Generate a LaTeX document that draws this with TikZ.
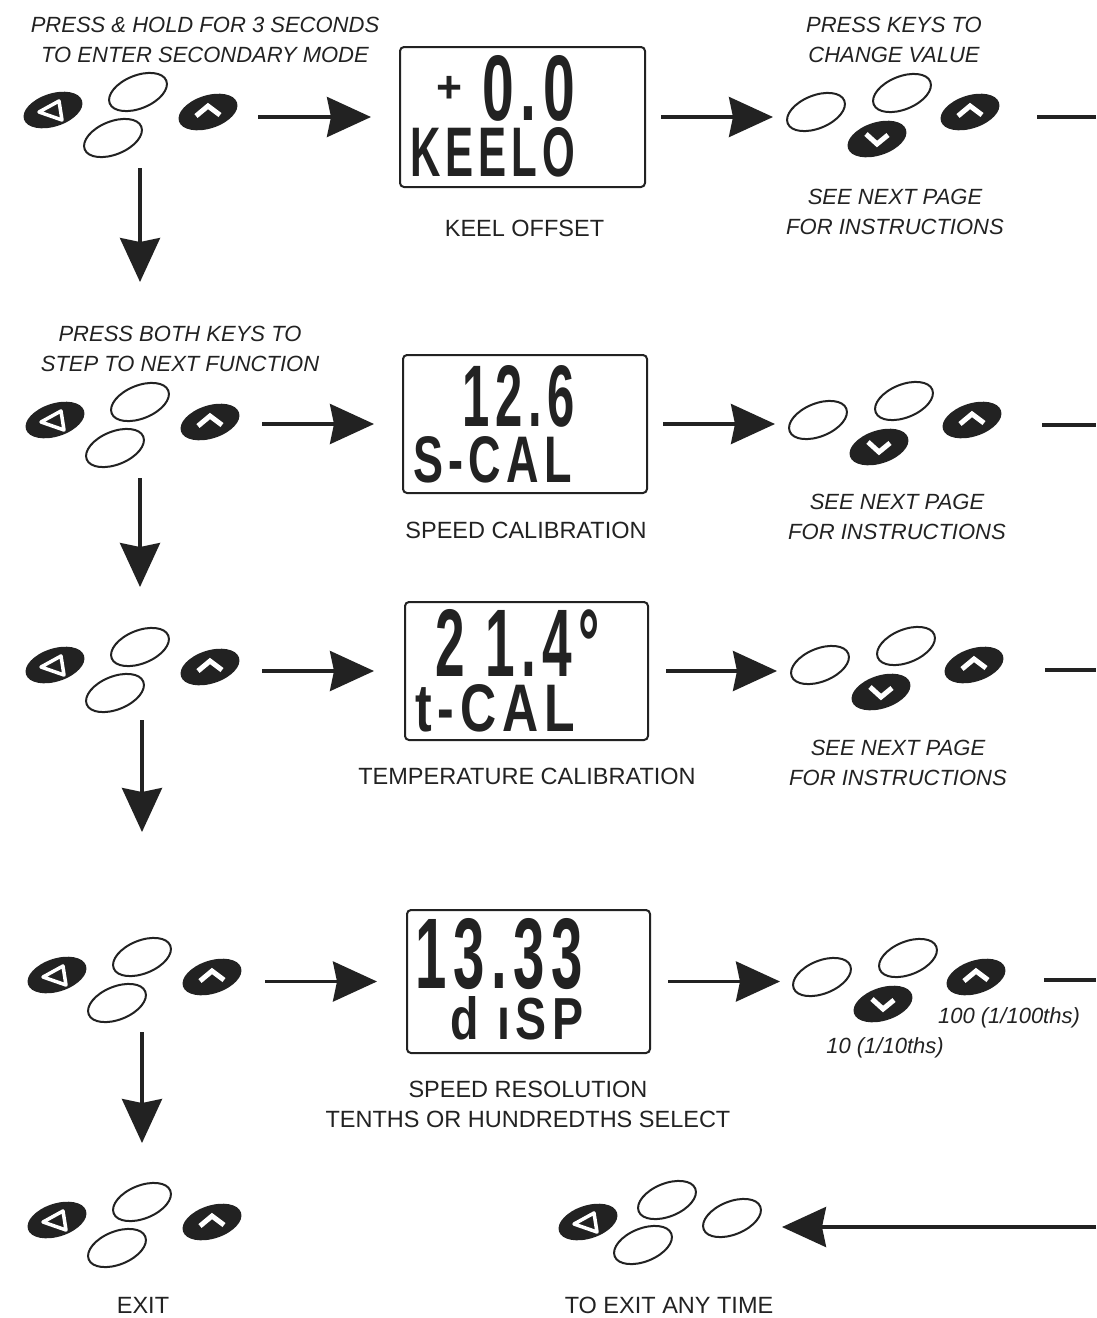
\documentclass[tikz,border=0pt]{standalone}
\usepackage{fontspec}
\setmainfont{Liberation Sans}
\newfontfamily\lcdfont[LetterSpace=12]{Liberation Sans}
\usepackage{graphicx}
\usetikzlibrary{arrows.meta,shapes.geometric}
\definecolor{ink}{HTML}{222222}

\tikzset{
  keybase/.style={ellipse, minimum width=61pt, minimum height=33pt, inner sep=0pt},
  blankkey/.style={keybase, draw=ink, line width=2pt, fill=white, rotate=22},
  darkkey/.style={keybase, fill=ink, rotate=18},
  glyph/.style={white, line width=5pt},
  lcd/.style={draw=ink, line width=2pt, rounded corners=4pt, inner sep=0pt},
  flow/.style={draw=ink, line width=3.5pt},
  bigarrow/.style={flow, -{Stealth[length=44pt,width=40pt,inset=4pt]}},
  note/.style={font=\fontsize{22}{30}\selectfont\itshape, text=ink, align=center, inner sep=0pt},
  caption/.style={font=\fontsize{23.5}{30}\selectfont, text=ink, align=center, inner sep=0pt},
  lcdtext/.style={font=\lcdfont\bfseries, text=ink, inner sep=0pt, anchor=south west},
}

% single keys: name, position
\newcommand\kMenu[2]{\node[darkkey] (#1) at #2 {};
  \draw[white, line width=3.5pt, line join=round, shift={(#1.center)}] (-14,2) -- (6,-9) -- (9,10) -- cycle;}
\newcommand\kUp[2]{\node[darkkey] (#1) at #2 {};
  \draw[glyph, shift={(#1.center)}] (-12,4) -- (0,-6) -- (12,3);}
\newcommand\kDown[2]{\node[darkkey] (#1) at #2 {};
  \draw[glyph, shift={(#1.center)}] (-11,-5) -- (0,5) -- (11,-4);}
\newcommand\kBlank[2]{\node[blankkey] (#1) at #2 {};}

% key groups: prefix, x, y of the first key
\newcommand\modeKeys[3]{%
  \kMenu{#1m}{(#2,#3)}
  \kBlank{#1u}{(#2+85,#3-18)}
  \kBlank{#1d}{(#2+60,#3+28)}
  \kUp{#1r}{(#2+155,#3+2)}}
\newcommand\valueKeys[3]{%
  \kBlank{#1b}{(#2,#3)}
  \kBlank{#1u}{(#2+86,#3-19)}
  \kDown{#1d}{(#2+61,#3+27)}
  \kUp{#1r}{(#2+154,#3)}}

\begin{document}
\begin{tikzpicture}[x=1pt,y=-1pt]
\fill[white] (0,0) rectangle (1096,1318);
\useasboundingbox (0,0) rectangle (1096,1318);

% ---- key groups, left column
\modeKeys{a}{53}{110}
\modeKeys{b}{55}{420}
\modeKeys{c}{55}{665}
\modeKeys{d}{57}{975}
\modeKeys{x}{57}{1220}

% ---- key groups, right column
\valueKeys{p}{816}{112}
\valueKeys{q}{818}{420}
\valueKeys{r}{820}{665}
\valueKeys{s}{822}{977}

% ---- exit-any-time keys
\kMenu{em}{(588,1222)}
\kBlank{eu}{(667,1200)}
\kBlank{ed}{(643,1245)}
\kBlank{eb}{(732,1218)}

% ---- displays
\node[lcd, minimum width=245pt, minimum height=140pt] (lcd1) at (522.5,117) {};
\node[lcd, minimum width=244pt, minimum height=138pt] (lcd2) at (525,424) {};
\node[lcd, minimum width=243pt, minimum height=138pt] (lcd3) at (526.5,671) {};
\node[lcd, minimum width=243pt, minimum height=143pt] (lcd4) at (528.5,981.5) {};

\node[lcdtext, anchor=center] (d1p) at (449.5,89) {\resizebox{26pt}{!}{+}};
\node[lcdtext] (d1a) at (482,122) {\resizebox{93pt}{65pt}{0.0}};
\node[lcdtext] (d1b) at (410,177) {\resizebox{165pt}{49pt}{KEELO}};
\node[lcdtext] (d2a) at (462,428) {\resizebox{113pt}{61pt}{12.6}};
\node[lcdtext] (d2b) at (413,483) {\resizebox{159pt}{46pt}{S-CAL}};
\node[lcdtext] (d3a) at (435,677) {\resizebox{165pt}{67pt}{2 1.4°}};
\node[lcdtext] (d3b) at (415,732) {\resizebox{160pt}{47pt}{t-CAL}};
\node[lcdtext] (d4a) at (415,990) {\resizebox{168pt}{70pt}{13.33}};
\node[lcdtext] (d4b) at (450,1040) {\resizebox{133pt}{43pt}{d ıSP}};

% ---- texts
\node[note] (t1) at (205,40) {PRESS \& HOLD FOR 3 SECONDS\\TO ENTER SECONDARY MODE};
\node[note] (t2) at (894,40) {PRESS KEYS TO\\CHANGE VALUE};
\node[note] (n1) at (895,212) {SEE NEXT PAGE\\FOR INSTRUCTIONS};
\node[caption] (c1) at (524.5,228) {KEEL OFFSET};
\node[note] (t3) at (180,349) {PRESS BOTH KEYS TO\\STEP TO NEXT FUNCTION};
\node[note] (n2) at (897,517) {SEE NEXT PAGE\\FOR INSTRUCTIONS};
\node[caption] (c2) at (526,530) {SPEED CALIBRATION};
\node[note] (n3) at (898,763) {SEE NEXT PAGE\\FOR INSTRUCTIONS};
\node[caption] (c3) at (527,776) {TEMPERATURE CALIBRATION};
\node[note] (v100) at (1009,1018) {100 (1/100ths)};
\node[note] (v10) at (885,1048) {10 (1/10ths)};
\node[caption] (c4) at (528,1104) {SPEED RESOLUTION\\TENTHS OR HUNDREDTHS SELECT};
\node[caption] (c5) at (143,1305) {EXIT};
\node[caption] (c6) at (669,1305) {TO EXIT ANY TIME};

% ---- flow down the left column
\draw[bigarrow, shorten <=30pt, shorten >=120pt] (bu.center |- ad.center) -- (bu.center);
\draw[bigarrow, shorten <=30pt, shorten >=60pt]  (cu.center |- bd.center) -- (cu.center);
\draw[bigarrow, shorten <=27pt, shorten >=125pt] (du.center |- cd.center) -- (du.center);
\draw[bigarrow, shorten <=29pt, shorten >=59pt]  (xu.center |- dd.center) -- (xu.center);

% ---- keys to displays
\draw[bigarrow, shorten <=50pt, shorten >=28pt] (ar.center |- lcd1.center) -- (lcd1.west);
\draw[bigarrow, shorten <=52pt, shorten >=28pt] (br.center |- lcd2.center) -- (lcd2.west);
\draw[bigarrow, shorten <=52pt, shorten >=30pt] (cr.center |- lcd3.center) -- (lcd3.west);
\draw[bigarrow, shorten <=53pt, shorten >=29pt] (dr.center |- lcd4.center) -- (lcd4.west);

% ---- displays to value keys
\draw[bigarrow, shorten <=15pt, shorten >=43pt] (lcd1.east) -- (pb.center |- lcd1.east);
\draw[bigarrow, shorten <=15pt, shorten >=43pt] (lcd2.east) -- (qb.center |- lcd2.east);
\draw[bigarrow, shorten <=17pt, shorten >=43pt] (lcd3.east) -- (rb.center |- lcd3.east);
\draw[bigarrow, shorten <=17pt, shorten >=42pt] (lcd4.east) -- (sb.center |- lcd4.east);

% ---- lines leaving at the right edge
\coordinate (e1) at (1096,117);
\coordinate (e2) at (1096,425);
\coordinate (e3) at (1096,670);
\coordinate (e4) at (1096,980);
\coordinate (e5) at (1096,1227);
\draw[flow, shorten <=67pt] (pr.center |- e1) -- (e1);
\draw[flow, shorten <=70pt] (qr.center |- e2) -- (e2);
\draw[flow, shorten <=71pt] (rr.center |- e3) -- (e3);
\draw[flow, shorten <=68pt] (sr.center |- e4) -- (e4);
\draw[bigarrow, shorten >=50pt] (e5) -- (eb.center |- e5);
\end{tikzpicture}
\end{document}
